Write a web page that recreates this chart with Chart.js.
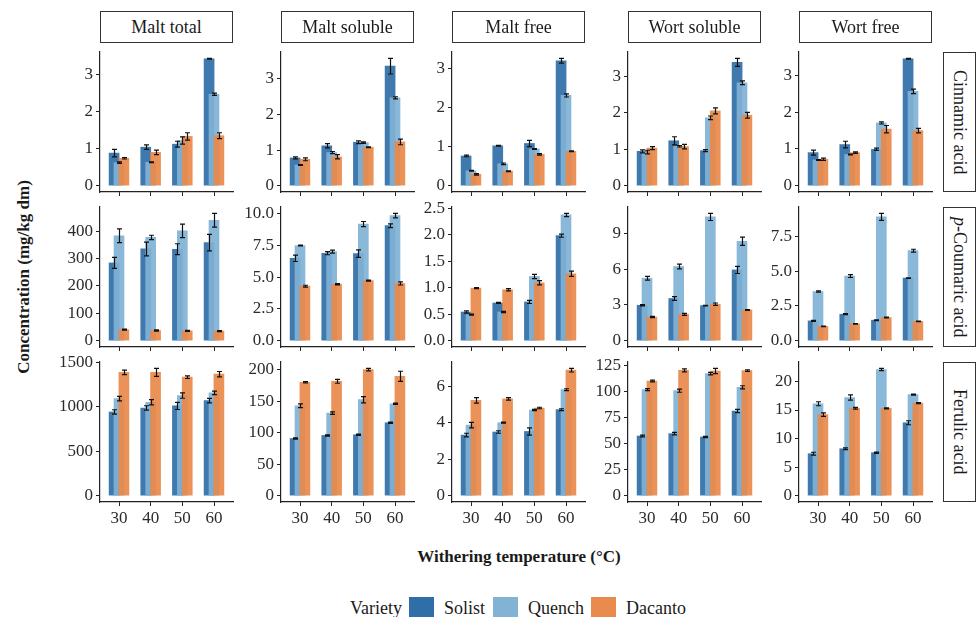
<!DOCTYPE html>
<html>
<head>
<meta charset="utf-8">
<script src="https://cdn.jsdelivr.net/npm/chart.js@4.4.1/dist/chart.umd.min.js"></script>
<style>
  body { margin: 0; width: 976px; height: 617px; overflow: hidden; background: #fff; position: relative;
         font-family: "Liberation Serif", "Times New Roman", serif; color: #1a1a1a; }
  canvas { position: absolute; }
  .strip { position: absolute; box-sizing: border-box; border: 1px solid #333; background: #fff;
           display: flex; align-items: center; justify-content: center; font-size: 18px; }
  .strip.v { writing-mode: vertical-rl; }
  .title { position: absolute; font-weight: bold; font-size: 17px; line-height: 20px; text-align: center; white-space: nowrap; }
  .leg { position: absolute; font-size: 18px; line-height: 20px; top: 598px; white-space: nowrap; }
  .sw { position: absolute; top: 597px; width: 25px; height: 24px; }
</style>
</head>
<body>
<script>
// ---- data ----
const temps = [30, 40, 50, 60];
const varieties = ['Solist', 'Quench', 'Dacanto'];
const fractions = ['Malt total', 'Malt soluble', 'Malt free', 'Wort soluble', 'Wort free'];
const acids = ['Cinnamic acid', '<i>p</i>-Coumaric acid', 'Ferulic acid'];

// per fraction: [Solist, Quench, Dacanto] x temps
const cinnamicMean = [
    [[0.88, 1.04, 1.12, 3.43], [0.62, 0.63, 1.22, 2.47], [0.74, 0.90, 1.33, 1.35]],
    [[0.78, 1.12, 1.22, 3.36], [0.58, 0.93, 1.21, 2.47], [0.74, 0.81, 1.08, 1.23]],
    [[0.76, 1.02, 1.08, 3.20], [0.38, 0.56, 0.94, 2.31], [0.29, 0.37, 0.80, 0.88]],
    [[0.94, 1.23, 0.96, 3.38], [0.92, 1.08, 1.86, 2.82], [1.03, 1.07, 2.05, 1.93]],
    [[0.90, 1.12, 0.99, 3.46], [0.70, 0.85, 1.71, 2.57], [0.72, 0.90, 1.54, 1.50]]
];
const cinnamicSe = [
    [[0.10, 0.06, 0.08, 0.01], [0.02, 0.01, 0.10, 0.03], [0.02, 0.06, 0.10, 0.08]],
    [[0.03, 0.06, 0.04, 0.22], [0.01, 0.03, 0.02, 0.03], [0.04, 0.06, 0.01, 0.08]],
    [[0.02, 0.01, 0.08, 0.06], [0.01, 0.02, 0.01, 0.04], [0.02, 0.01, 0.02, 0.01]],
    [[0.04, 0.11, 0.03, 0.11], [0.05, 0.02, 0.05, 0.05], [0.04, 0.06, 0.08, 0.08]],
    [[0.07, 0.09, 0.03, 0.01], [0.01, 0.01, 0.03, 0.06], [0.03, 0.02, 0.10, 0.06]]
];
const coumaricMean = [
    [[284, 335, 334, 358], [383, 377, 401, 440], [40, 37, 36, 35]],
    [[6.48, 6.88, 6.85, 9.05], [7.49, 7.01, 9.18, 9.84], [4.29, 4.44, 4.73, 4.50]],
    [[0.54, 0.71, 0.73, 1.98], [0.49, 0.54, 1.21, 2.37], [0.99, 0.96, 1.09, 1.26]],
    [[2.97, 3.54, 2.94, 5.94], [5.24, 6.23, 10.39, 8.35], [1.98, 2.21, 3.06, 2.58]],
    [[1.42, 1.90, 1.47, 4.50], [3.53, 4.64, 8.90, 6.47], [1.03, 1.20, 1.66, 1.39]]
];
const coumaricSe = [
    [[20, 25, 20, 30], [25, 8, 25, 25], [2, 2, 2, 2]],
    [[0.25, 0.12, 0.30, 0.15], [0.03, 0.12, 0.20, 0.18], [0.07, 0.05, 0.04, 0.12]],
    [[0.02, 0.01, 0.03, 0.03], [0.01, 0.01, 0.04, 0.03], [0.01, 0.02, 0.04, 0.05]],
    [[0.05, 0.15, 0.03, 0.30], [0.15, 0.20, 0.30, 0.35], [0.05, 0.08, 0.10, 0.03]],
    [[0.03, 0.04, 0.03, 0.02], [0.05, 0.10, 0.25, 0.10], [0.02, 0.02, 0.03, 0.02]]
];
const ferulicMean = [
    [[940, 985, 1008, 1068], [1090, 1049, 1124, 1154], [1385, 1385, 1331, 1365]],
    [[90.7, 95.5, 96.6, 115.7], [142.7, 131, 152.3, 145.9], [179.8, 181.4, 200, 189.4]],
    [[3.33, 3.50, 3.53, 4.73], [3.88, 4.01, 4.71, 5.83], [5.24, 5.32, 4.82, 6.90]],
    [[57.2, 59.5, 56.3, 81.2], [101.7, 100.7, 117, 103.9], [110, 120.2, 119.6, 119.9]],
    [[7.35, 8.22, 7.52, 12.77], [16.1, 17.2, 22.1, 17.7], [14.2, 15.3, 15.3, 16.2]]
];
const ferulicSe = [
    [[25, 25, 40, 25], [25, 30, 30, 20], [25, 45, 15, 30]],
    [[1, 1, 1, 1], [3, 2, 5, 1], [1, 3, 2, 8]],
    [[0.10, 0.07, 0.20, 0.05], [0.15, 0.03, 0.03, 0.05], [0.15, 0.07, 0.04, 0.10]],
    [[0.8, 1.2, 0.6, 1.5], [1, 1.5, 1.2, 1.5], [0.8, 1.5, 2.5, 0.8]],
    [[0.25, 0.15, 0.10, 0.35], [0.35, 0.45, 0.20, 0.10], [0.30, 0.15, 0.10, 0.10]]
];

// y tick values per panel
const cinnamicTicks = [[0, 1, 2, 3], [0, 1, 2, 3], [0, 1, 2, 3], [0, 1, 2, 3], [0, 1, 2, 3]];
const coumaricTicks = [[0, 100, 200, 300, 400], [0, 2.5, 5, 7.5, 10], [0, 0.5, 1, 1.5, 2, 2.5], [0, 3, 6, 9], [0, 2.5, 5, 7.5]];
const ferulicTicks = [[0, 500, 1000, 1500], [0, 50, 100, 150, 200], [0, 2, 4, 6], [0, 25, 50, 75, 100, 125], [0, 5, 10, 15, 20]];

const barColors = ['rgba(47,110,166,0.92)', 'rgba(128,178,213,0.92)', 'rgba(233,137,74,0.92)'];
const swatchColors = ['#2f6ea6', '#82b3d5', '#e98b4c'];

// ---- layout ----
const colLeft = [100, 281, 452, 628, 799];
const rowTop = [52, 207, 362];
const panelW = 133, panelH = 140;
const yAxisW = 50, padTop = 14, padRight = 10;
const dodge = [-1.55, 0, 1.55];   // in temperature units

Chart.defaults.font.family = '"Liberation Serif", "Times New Roman", serif';
Chart.defaults.font.size = 17;
Chart.defaults.color = '#2b2b2b';

const errorBars = {
    id: 'errorBars',
    afterDatasetsDraw(chart) {
        const { ctx, scales: { x, y } } = chart;
        ctx.save();
        ctx.strokeStyle = '#111';
        ctx.lineWidth = 1.2;
        chart.data.datasets.forEach(ds => {
            ds.data.forEach((p, i) => {
                const px = Math.round(x.getPixelForValue(p.x)) + 0.5;
                const top = y.getPixelForValue(p.y + ds.se[i]);
                const bot = y.getPixelForValue(p.y - ds.se[i]);
                ctx.beginPath();
                ctx.moveTo(px, top); ctx.lineTo(px, bot);
                ctx.moveTo(px - 2.5, top); ctx.lineTo(px + 2.5, top);
                ctx.moveTo(px - 2.5, bot); ctx.lineTo(px + 2.5, bot);
                ctx.stroke();
            });
        });
        ctx.restore();
    }
};

const rowMeans = [cinnamicMean, coumaricMean, ferulicMean];
const rowSes = [cinnamicSe, coumaricSe, ferulicSe];
const rowTicks = [cinnamicTicks, coumaricTicks, ferulicTicks];

acids.forEach((acid, r) => {
    const bottomRow = r === acids.length - 1;
    const xAxisH = bottomRow ? 30 : 14;

    fractions.forEach((frac, c) => {
        const means = rowMeans[r][c];
        const ses = rowSes[r][c];
        const ticks = rowTicks[r][c];
        let top = 0;
        means.forEach((m, v) => m.forEach((val, i) => { top = Math.max(top, val + ses[v][i]); }));
        const decimals = ticks.some(t => !Number.isInteger(t)) ? 1 : 0;

        const canvas = document.createElement('canvas');
        const w = yAxisW + panelW + padRight;
        const h = padTop + panelH + xAxisH;
        canvas.width = w; canvas.height = h;
        canvas.style.left = (colLeft[c] - yAxisW) + 'px';
        canvas.style.top = (rowTop[r] - padTop) + 'px';
        canvas.style.width = w + 'px'; canvas.style.height = h + 'px';
        document.body.appendChild(canvas);

        new Chart(canvas, {
            type: 'bar',
            data: {
                datasets: varieties.map((name, v) => ({
                    label: name,
                    data: temps.map((t, i) => ({ x: t + dodge[v], y: means[v][i] })),
                    se: ses[v],
                    backgroundColor: barColors[v],
                    order: varieties.length - v,
                    barThickness: 10,
                    grouped: false
                }))
            },
            options: {
                responsive: false,
                animation: false,
                devicePixelRatio: 1,
                layout: { padding: { top: padTop, right: padRight, left: 0, bottom: 0 } },
                plugins: { legend: { display: false }, tooltip: { enabled: false } },
                scales: {
                    x: {
                        type: 'linear', min: 24, max: 66, bounds: 'data', offset: false,
                        afterBuildTicks: s => { s.ticks = temps.map(v => ({ value: v })); },
                        afterFit: s => { s.height = xAxisH; },
                        ticks: { display: bottomRow, padding: 2, maxRotation: 0, autoSkip: false },
                        grid: { display: true, offset: false, drawOnChartArea: false, drawTicks: true, tickLength: 4, color: '#222' },
                        border: { display: true, color: '#222', width: 1.2 }
                    },
                    y: {
                        type: 'linear', min: -0.05 * top, max: 1.05 * top, bounds: 'data',
                        afterBuildTicks: s => { s.ticks = ticks.map(v => ({ value: v })); },
                        afterFit: s => { s.width = yAxisW; },
                        ticks: { padding: 3, callback: v => v.toFixed(decimals) },
                        grid: { display: true, drawOnChartArea: false, drawTicks: true, tickLength: 4, color: '#222' },
                        border: { display: true, color: '#222', width: 1.2 }
                    }
                }
            },
            plugins: [errorBars]
        });
    });
});

// strips
fractions.forEach((frac, c) => {
    const d = document.createElement('div');
    d.className = 'strip';
    Object.assign(d.style, { left: colLeft[c] + 'px', top: '11px', width: panelW + 'px', height: '32px' });
    d.textContent = frac;
    document.body.appendChild(d);
});
acids.forEach((acid, r) => {
    const d = document.createElement('div');
    d.className = 'strip v';
    Object.assign(d.style, { left: '943px', top: rowTop[r] + 'px', width: '33px', height: panelH + 'px' });
    d.innerHTML = acid;
    document.body.appendChild(d);
});

// axis titles
const xt = document.createElement('div');
xt.className = 'title';
Object.assign(xt.style, { left: '319px', width: '400px', top: '547px' });
xt.textContent = 'Withering temperature (°C)';
document.body.appendChild(xt);

const yt = document.createElement('div');
yt.className = 'title';
Object.assign(yt.style, { left: '-126px', width: '300px', top: '267px', transform: 'rotate(-90deg)' });
yt.textContent = 'Concentration (mg/kg dm)';
document.body.appendChild(yt);

// legend
const legLabel = document.createElement('div');
legLabel.className = 'leg';
legLabel.style.left = '350px';
legLabel.textContent = 'Variety';
document.body.appendChild(legLabel);
const swLeft = [409, 493, 591];
varieties.forEach((name, v) => {
    const sw = document.createElement('div');
    sw.className = 'sw';
    sw.style.left = swLeft[v] + 'px';
    sw.style.background = swatchColors[v];
    document.body.appendChild(sw);
    const t = document.createElement('div');
    t.className = 'leg';
    t.style.left = (swLeft[v] + 35) + 'px';
    t.textContent = name;
    document.body.appendChild(t);
});
</script>
</body>
</html>
